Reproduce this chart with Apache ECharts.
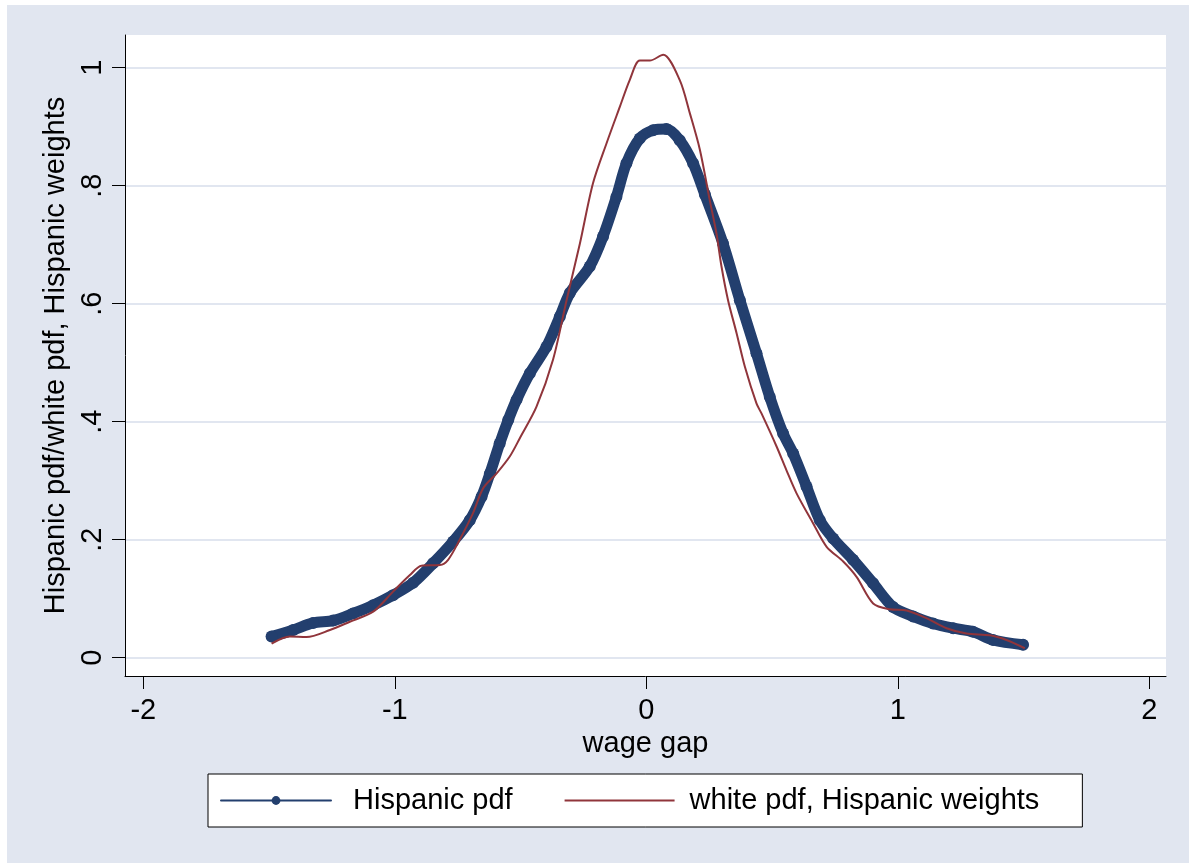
<!DOCTYPE html>
<html>
<head>
<meta charset="utf-8">
<title>wage gap</title>
<script src="https://cdn.jsdelivr.net/npm/echarts@6/dist/echarts.min.js"></script>
<style>
body{margin:0;background:#ffffff;}
#wrap{position:absolute;left:7px;top:5px;width:1182px;height:858px;background:#e1e6f0;}
#chartView{width:1182px;height:858px;}
</style>
</head>
<body>
<div id="wrap"><div id="chartView"></div></div>
<script>
// Hispanic pdf
var hispX = [-1.49,-1.404,-1.325,-1.245,-1.166,-1.086,-1.007,-0.927,-0.848,-0.768,-0.702,-0.655,-0.622,-0.583,-0.549,-0.516,-0.463,-0.397,-0.344,-0.304,-0.225,-0.172,-0.119,-0.079,-0.026,0.027,0.080,0.133,0.186,0.233,0.305,0.372,0.438,0.491,0.544,0.584,0.637,0.690,0.743,0.822,0.902,0.981,1.061,1.140,1.220,1.299,1.379,1.498];
var hispY = [0.036,0.047,0.059,0.063,0.075,0.089,0.106,0.127,0.160,0.197,0.233,0.273,0.312,0.363,0.403,0.437,0.482,0.527,0.578,0.618,0.663,0.714,0.781,0.838,0.880,0.894,0.896,0.877,0.838,0.785,0.702,0.606,0.516,0.442,0.380,0.346,0.290,0.233,0.202,0.166,0.126,0.086,0.070,0.058,0.050,0.044,0.030,0.022];
// white pdf, Hispanic weights
var whiteX = [-1.49,-1.417,-1.351,-1.258,-1.179,-1.086,-1.007,-0.940,-0.894,-0.821,-0.788,-0.742,-0.689,-0.649,-0.596,-0.543,-0.503,-0.437,-0.371,-0.317,-0.264,-0.212,-0.158,-0.105,-0.066,-0.026,0.014,0.067,0.133,0.173,0.213,0.252,0.279,0.299,0.325,0.359,0.392,0.438,0.458,0.518,0.557,0.597,0.663,0.717,0.783,0.836,0.902,0.968,1.035,1.114,1.194,1.273,1.366,1.432,1.505];
var whiteY = [0.024,0.036,0.035,0.047,0.061,0.078,0.112,0.140,0.156,0.157,0.166,0.200,0.245,0.287,0.312,0.341,0.372,0.425,0.505,0.606,0.702,0.804,0.872,0.934,0.979,1.012,1.012,1.022,0.979,0.923,0.861,0.776,0.719,0.663,0.606,0.550,0.493,0.431,0.414,0.358,0.318,0.279,0.228,0.188,0.163,0.137,0.092,0.082,0.080,0.067,0.050,0.041,0.038,0.030,0.016];
var xTicks = [-2,-1,0,1,2];
var xTickLabels = ['-2','-1','0','1','2'];
var yTicks = [0,0.2,0.4,0.6,0.8,1];
var yTickLabels = ['0','.2','.4','.6','.8','1'];
var seriesNames = ['Hispanic pdf','white pdf, Hispanic weights'];

var navy = '#233f6e', maroon = '#90353b';
var fontFamily = 'Liberation Sans, Arial, sans-serif';

function pairs(xs, ys){
	var out = [];
	for (var i = 0; i < xs.length; i++) {
		out.push([xs[i], ys[i]]);
	}
	return out;
}
function tickLabel(ticks, labels){
	return function(v){
		for (var i = 0; i < ticks.length; i++) {
			if (Math.abs(ticks[i] - v) < 1e-9) return labels[i];
		}
		return '';
	};
}

var chart = echarts.init(document.getElementById('chartView'), null, {renderer:'canvas'});
var option = {
	animation:false,
	backgroundColor:'transparent',
	textStyle:{fontFamily:fontFamily},
	grid:{left:118,top:30,width:1041,height:641,show:true,backgroundColor:'#ffffff',borderWidth:0,containLabel:false},
	legend:{
		left:201,top:769,orient:'horizontal',
		padding:[12,43,12,12],itemGap:51,
		itemWidth:110,itemHeight:11,
		backgroundColor:'#ffffff',borderColor:'#000000',borderWidth:1,borderRadius:0,
		textStyle:{fontSize:29,color:'#000',fontFamily:fontFamily},
		data:[
			{name:seriesNames[0],lineStyle:{width:2},textStyle:{padding:[0,0,0,17]}},
			{name:seriesNames[1],itemStyle:{opacity:0},lineStyle:{width:2},textStyle:{padding:[0,0,0,10]}}
		]
	},
	xAxis:{
		type:'value',min:-2.0728,max:2.0664,
		name:'wage gap',nameLocation:'middle',nameGap:47,
		nameTextStyle:{fontSize:29,color:'#000',fontFamily:fontFamily},
		axisLine:{show:true,onZero:false,lineStyle:{color:'#000',width:1}},
		axisTick:{show:true,length:13,customValues:xTicks,lineStyle:{color:'#000',width:1}},
		axisLabel:{show:true,customValues:xTicks,margin:20,fontSize:29,color:'#000',formatter:tickLabel(xTicks,xTickLabels)},
		splitLine:{show:false}
	},
	yAxis:{
		type:'value',min:-0.031,max:1.0554,
		name:'Hispanic pdf/white pdf, Hispanic weights',nameLocation:'middle',nameGap:52,nameRotate:90,
		nameTextStyle:{fontSize:29,color:'#000',fontFamily:fontFamily},
		axisLine:{show:true,onZero:false,lineStyle:{color:'#000',width:1}},
		axisTick:{show:true,length:13,customValues:yTicks,lineStyle:{color:'#000',width:1}},
		axisLabel:{show:true,customValues:yTicks,rotate:90,margin:18,fontSize:29,color:'#000',formatter:tickLabel(yTicks,yTickLabels)},
		splitLine:{show:true,lineStyle:{color:'#e1e6f0',width:2}}
	},
	series:[
		{
			name:seriesNames[0],type:'line',data:pairs(hispX,hispY),
			smooth:0.3,symbol:'circle',symbolSize:12,showSymbol:true,
			itemStyle:{color:navy},
			lineStyle:{color:navy,width:11,cap:'round',join:'round'},
			z:2
		},
		{
			name:seriesNames[1],type:'line',data:pairs(whiteX,whiteY),
			smooth:0.3,symbol:'none',
			itemStyle:{color:maroon},
			lineStyle:{color:maroon,width:2},
			z:3
		}
	]
};
chart.setOption(option);
</script>
</body>
</html>
